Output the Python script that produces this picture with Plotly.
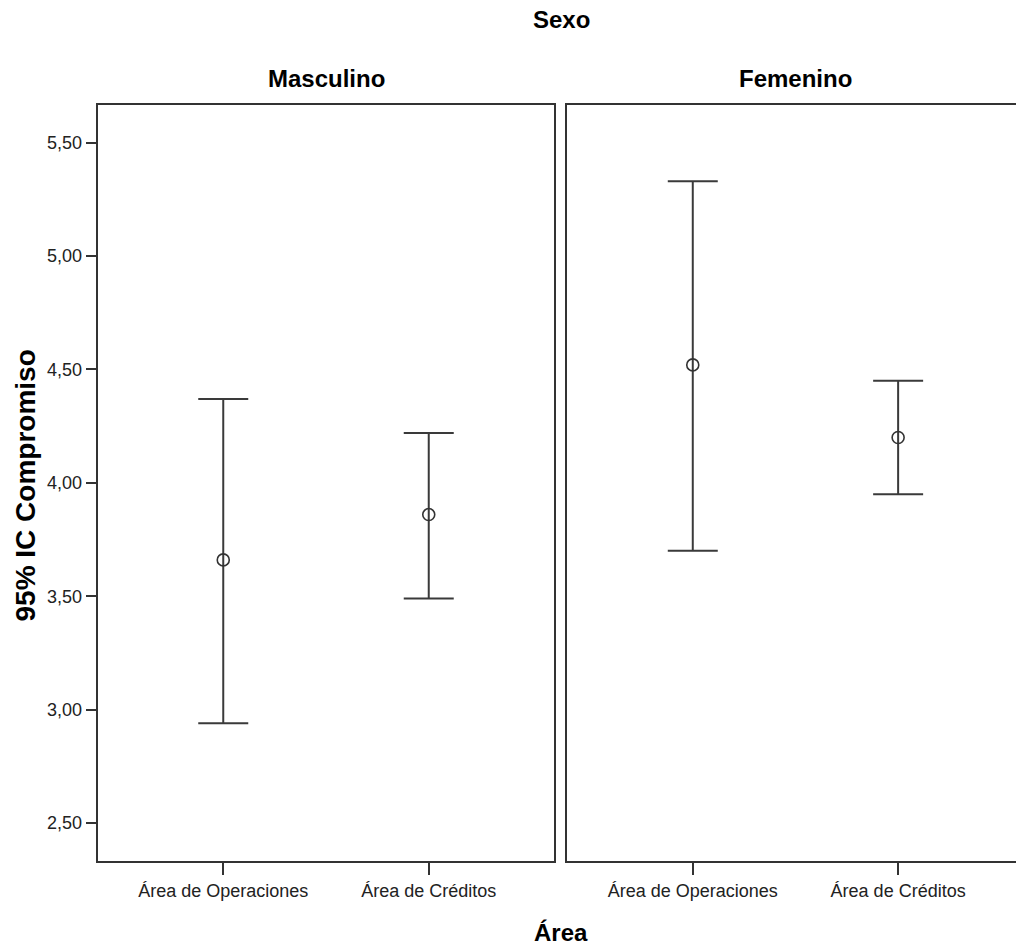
import plotly.graph_objects as go

# ---- data ----
categories = ["Área de Operaciones", "Área de Créditos"]
panels = ["Masculino", "Femenino"]
mean_masc = [3.66, 3.86]
lower_masc = [2.94, 3.49]
upper_masc = [4.37, 4.22]
mean_fem = [4.52, 4.20]
lower_fem = [3.70, 3.95]
upper_fem = [5.33, 4.45]
y_ticks = [2.5, 3.0, 3.5, 4.0, 4.5, 5.0, 5.5]

FONT = "Liberation Sans, Arial, sans-serif"
INK = "#222222"
LINE = "#333333"

fig = go.Figure()

series = [
    (mean_masc, lower_masc, upper_masc, "x", "y"),
    (mean_fem, lower_fem, upper_fem, "x2", "y2"),
]
for means, lows, ups, xa, ya in series:
    fig.add_trace(go.Scatter(
        x=categories, y=means, xaxis=xa, yaxis=ya, mode="markers",
        marker=dict(symbol="circle-open", size=12, color=LINE, line=dict(width=1.6, color=LINE)),
        error_y=dict(type="data", symmetric=False,
                     array=[u - m for u, m in zip(ups, means)],
                     arrayminus=[m - l for m, l in zip(means, lows)],
                     color="#3a3a3a", thickness=2, width=25),
        showlegend=False, hoverinfo="skip",
    ))

W, H = 1016, 950
y_dom = [1 - 861.3 / H, 1 - 105 / H]
yrange = [2.331, 5.666]

axis_common = dict(showline=True, linecolor=LINE, linewidth=2, showgrid=False,
                   zeroline=False, ticks="outside", tickcolor=LINE, tickwidth=2,
                   tickfont=dict(family=FONT, size=18, color=INK))

fig.update_layout(
    width=W, height=H, margin=dict(l=0, r=0, t=0, b=0),
    paper_bgcolor="white", plot_bgcolor="white",
    separators=",.",
    xaxis=dict(domain=[97.7 / W, 554.3 / W], type="category", range=[-0.611, 1.611],
               mirror=True, ticklen=12, anchor="y", **axis_common),
    yaxis=dict(domain=y_dom, range=yrange, tickvals=y_ticks, tickformat=".2f",
               mirror=True, ticklen=10, anchor="x", **axis_common),
    xaxis2=dict(domain=[567.3 / W, 1.0], type="category", range=[-0.611, 1.574],
                mirror=True, ticklen=12, anchor="y2", **axis_common),
    yaxis2=dict(domain=y_dom, range=yrange, showticklabels=False, ticks="",
                showline=True, linecolor=LINE, linewidth=2, mirror=False,
                showgrid=False, zeroline=False, anchor="x2"),
)

ann = [
    dict(text="<b>Sexo</b>", x=561 / W, y=1 - 20 / H),
    dict(text="<b>Masculino</b>", x=326 / W, y=1 - 78.7 / H),
    dict(text="<b>Femenino</b>", x=795 / W, y=1 - 78.7 / H),
    dict(text="<b>Área</b>", x=561 / W, y=1 - 932 / H),
]
for a in ann:
    fig.add_annotation(text=a["text"], x=a["x"], y=a["y"], xref="paper", yref="paper",
                       xanchor="center", yanchor="middle", showarrow=False,
                       font=dict(family=FONT, size=24, color="black"))
fig.add_annotation(text="<b>95% IC Compromiso</b>", x=25 / W, y=1 - 485.5 / H,
                   xref="paper", yref="paper", xanchor="center", yanchor="middle",
                   textangle=-90, showarrow=False,
                   font=dict(family=FONT, size=28, color="black"))

fig.write_html("out.html", config={"displayModeBar": False},
               post_script="document.body.style.margin='0';document.body.style.overflow='hidden';")
